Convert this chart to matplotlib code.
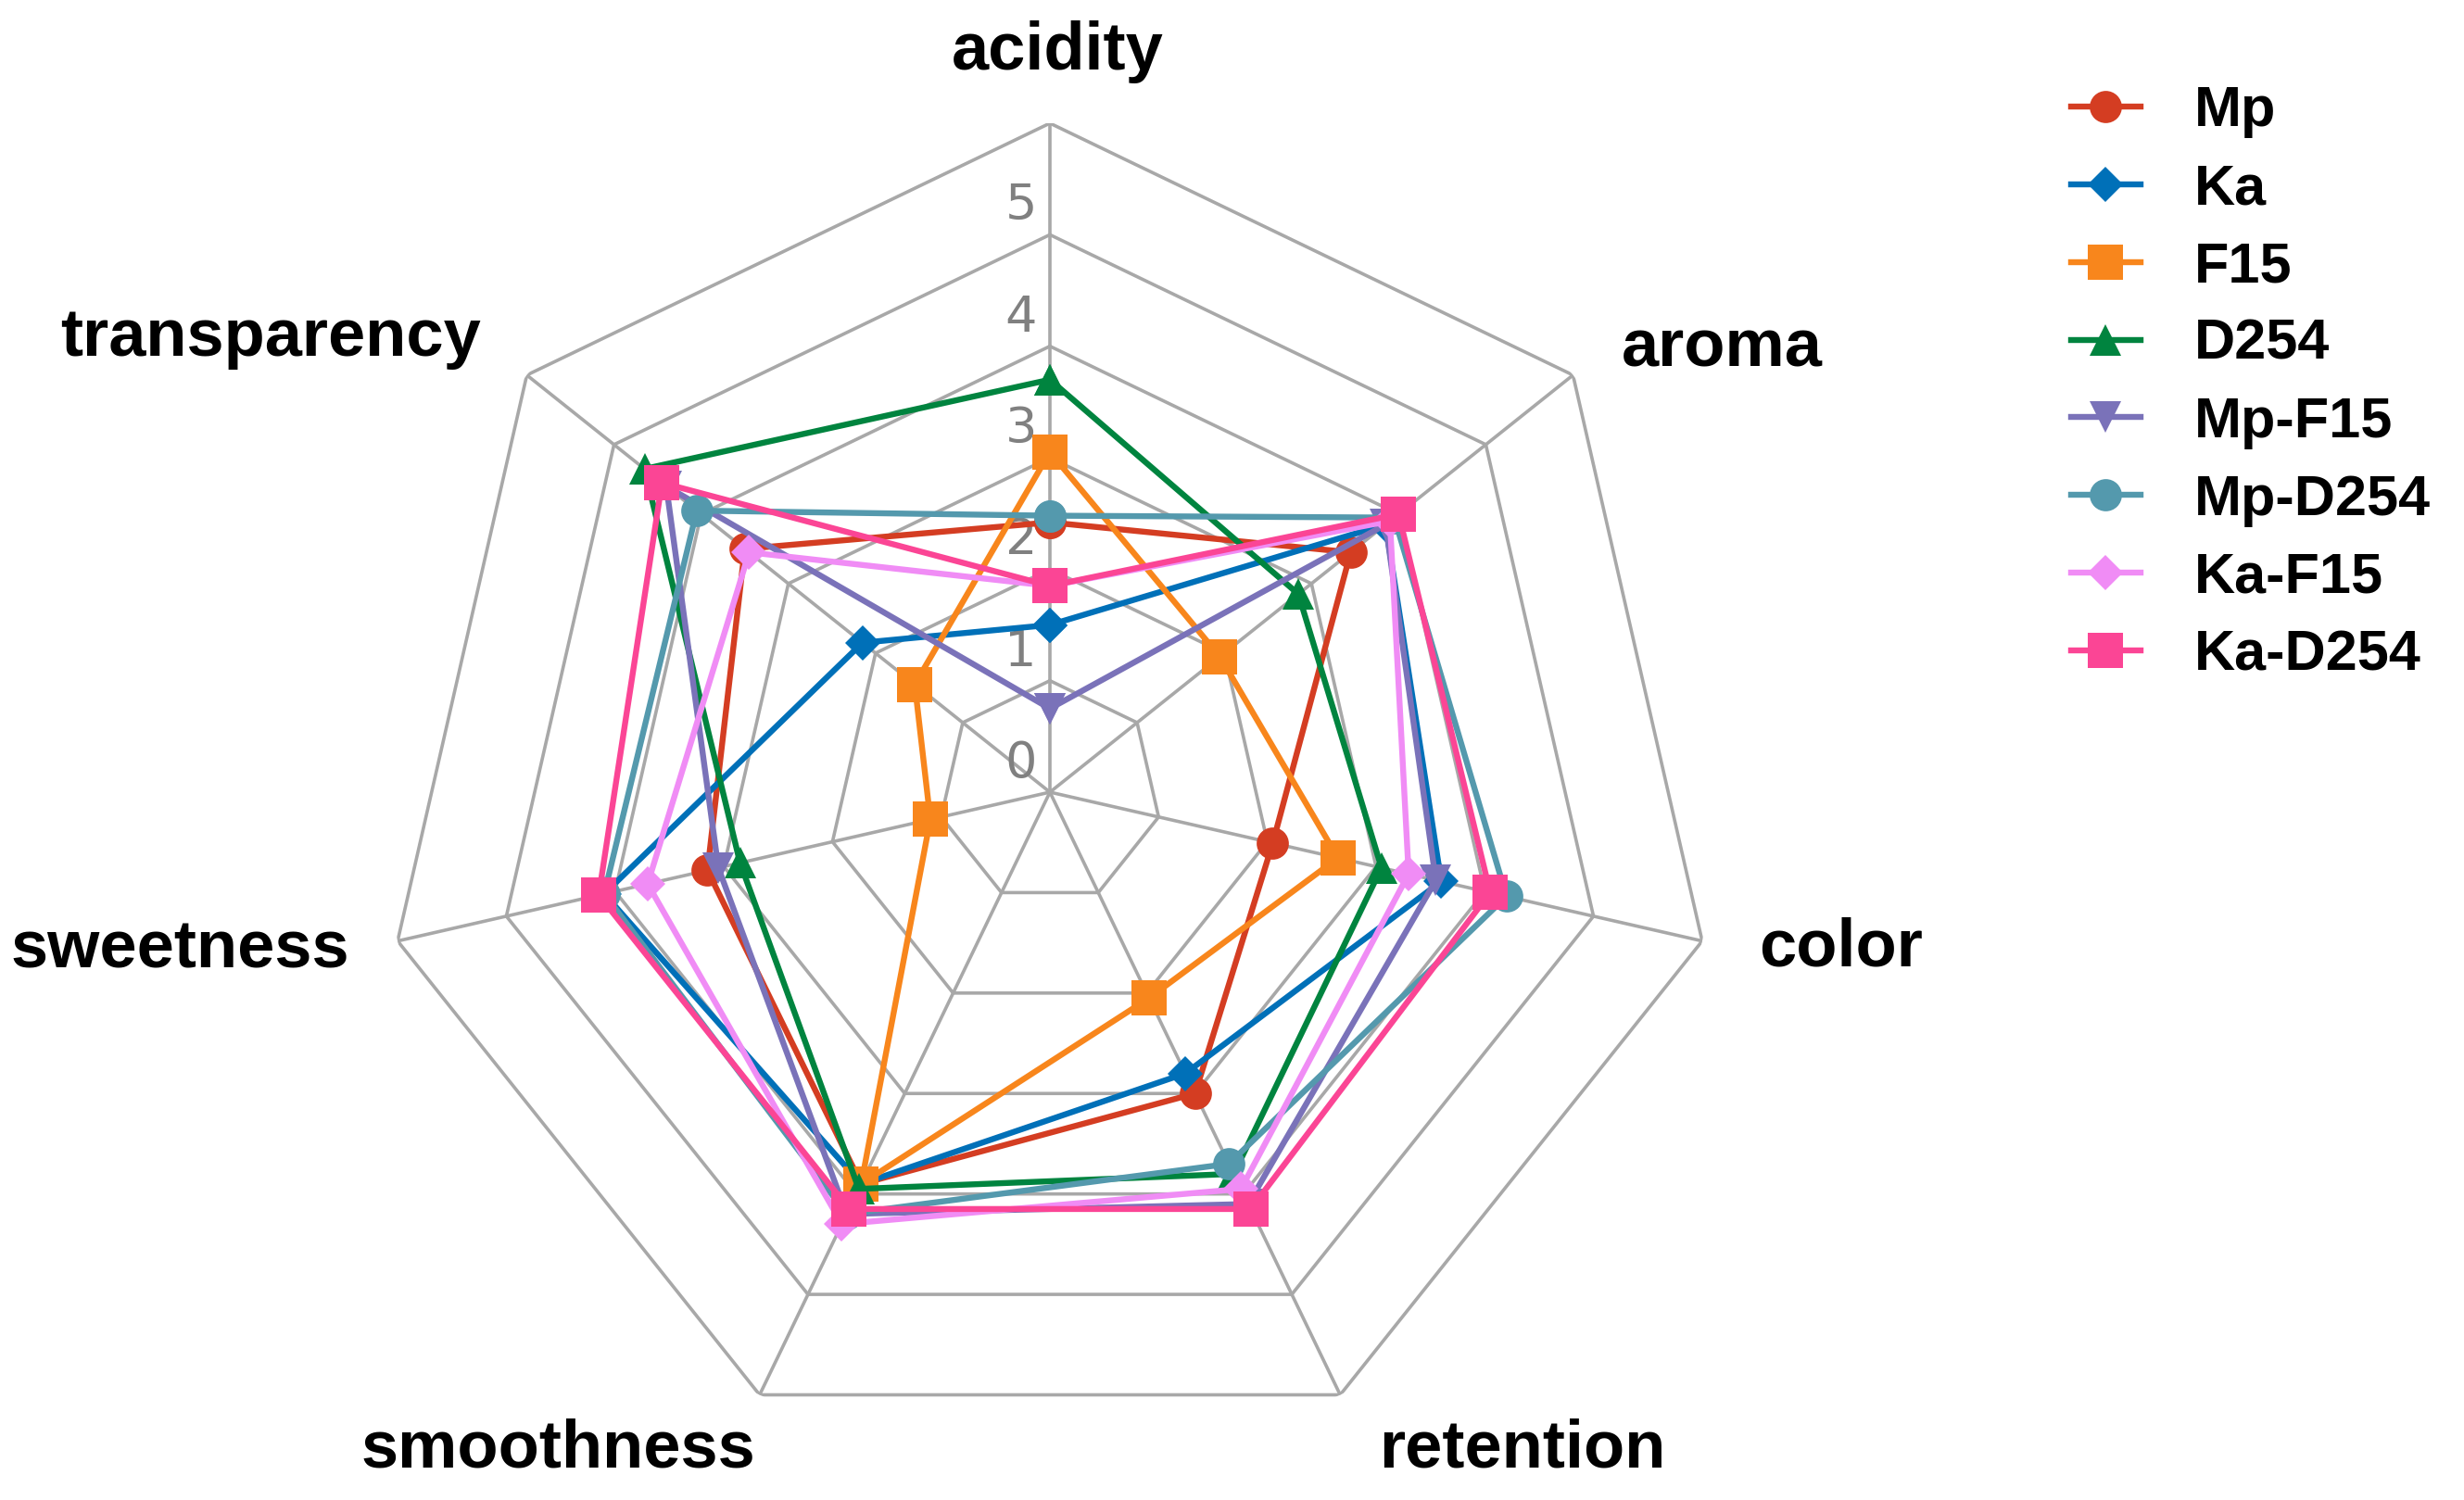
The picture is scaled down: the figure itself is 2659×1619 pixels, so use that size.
import numpy as np
import matplotlib.pyplot as plt
from matplotlib.lines import Line2D
from matplotlib.transforms import offset_copy

# sensory attributes, clockwise from the top
categories = ['acidity', 'aroma', 'color', 'retention', 'smoothness', 'sweetness', 'transparency']

# scores
mp      = [2.42, 3.45, 2.05, 3.00, 3.90, 3.15, 3.50]
ka      = [1.50, 3.85, 3.60, 2.80, 3.90, 4.10, 2.15]
f15     = [3.05, 1.95, 2.65, 2.05, 3.90, 1.10, 1.55]
d254    = [3.70, 2.85, 3.05, 3.80, 3.95, 2.85, 4.65]
mp_f15  = [0.75, 3.85, 3.55, 4.10, 4.20, 3.05, 4.40]
mp_d254 = [2.48, 3.95, 4.20, 3.70, 4.20, 4.10, 4.05]
ka_f15  = [1.85, 3.90, 3.30, 3.95, 4.30, 3.70, 3.45]
ka_d254 = [1.85, 4.00, 4.05, 4.15, 4.15, 4.15, 4.45]

names = ['Mp', 'Ka', 'F15', 'D254', 'Mp-F15', 'Mp-D254', 'Ka-F15', 'Ka-D254']
values = [mp, ka, f15, d254, mp_f15, mp_d254, ka_f15, ka_d254]
colors = ['#D43D22', '#0070B8', '#F8861C', '#00843F',
          '#7A72B9', '#5499AD', '#F08CF5', '#FB4595']
markers = ['o', 'D', 's', '^', 'v', 'o', 'D', 's']
msizes = [25, 19, 27, 24, 24, 25, 19, 27]

ticks = [0, 1, 2, 3, 4, 5]
rmax = 6

fig = plt.figure(figsize=(26.59, 16.19), dpi=100)
ax = fig.add_axes([0.15457, 0.02594, 0.54306, 0.89191], projection='polar')
ax.set_theta_zero_location('N')
ax.set_theta_direction(-1)
ax.set_ylim(0, rmax)
ax.grid(False)
ax.spines['polar'].set_visible(False)
ax.set_xticks([])
ax.set_yticks([])

n = len(categories)
angles = np.linspace(0, 2 * np.pi, n, endpoint=False)
closed = np.append(angles, angles[0])

# heptagon grid
grid_col = '#A8A8A8'
for r in range(1, rmax + 1):
    ax.plot(closed, [r] * (n + 1), color=grid_col, lw=2.6, zorder=1)
for a in angles:
    ax.plot([a, a], [0, rmax], color=grid_col, lw=2.6, zorder=1)

# value labels along the acidity spoke
lab_tr = offset_copy(ax.transData, fig=fig, x=-14, y=31, units='dots')
for t in ticks:
    ax.text(0, t, str(t), transform=lab_tr, ha='right', va='center',
            fontsize=39, color='#808080', family='DejaVu Sans')

# series
for name, vals, c, m, ms in zip(names, values, colors, markers, msizes):
    v = np.append(vals, vals[0])
    ax.plot(closed, v, color=c, lw=4.6, marker=m, markersize=ms,
            markeredgewidth=0, label=name, zorder=3)

# category labels (angle in degrees, radius in data units)
label_pos = [(0.6, 6.64), (56.6, 7.22), (101.2, 7.23), (144.3, 7.26),
             (216.8, 7.36), (259.7, 7.93), (300.2, 8.09)]
for cat, (deg, rr) in zip(categories, label_pos):
    ax.text(np.deg2rad(deg), rr, cat, ha='center', va='center',
            fontsize=52, fontweight='bold', family='Liberation Sans',
            color='black')

handles = [Line2D([], [], color=c, lw=4.6, marker=m, markersize=ms,
                  markeredgewidth=0)
           for c, m, ms in zip(colors, markers, msizes)]
fig.legend(handles, names, loc='upper left', bbox_to_anchor=(0.8405, 0.943),
           frameon=False, borderpad=0, borderaxespad=0,
           handlelength=1.23, handletextpad=0.95, labelspacing=0.44,
           prop={'family': 'Liberation Sans', 'weight': 'bold', 'size': 44})

fig.savefig('out.png', dpi=100)
